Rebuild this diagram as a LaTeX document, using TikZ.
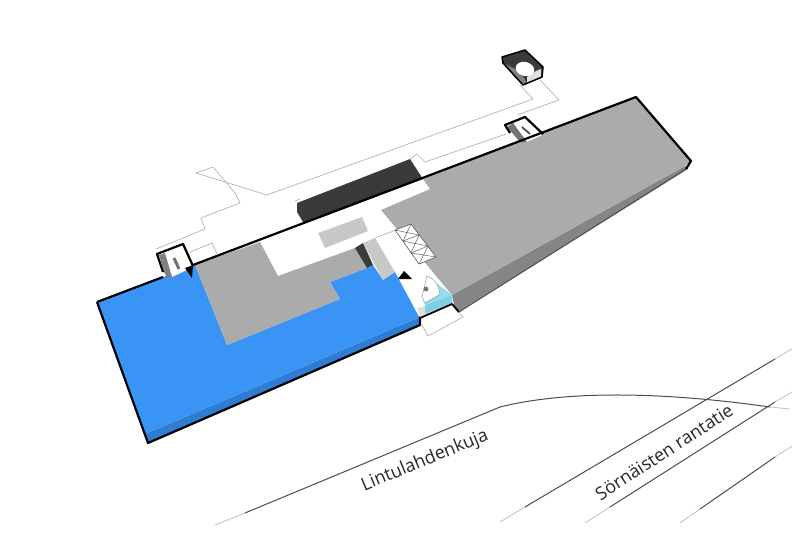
\documentclass[tikz,border=0pt]{standalone}
\usepackage{fontspec}
\setmainfont{Open Sans}
\definecolor{blueTop}{HTML}{3A94F6}
\definecolor{blueSide}{HTML}{2F7DD3}
\definecolor{grayTop}{HTML}{ABABAB}
\definecolor{graySide}{HTML}{858585}
\definecolor{darkBlock}{HTML}{3A3A3A}
\definecolor{paleGray}{HTML}{C8C8C8}
\definecolor{cyanTop}{HTML}{8FDDEE}
\definecolor{cyanSide}{HTML}{7FD0E6}
\tikzset{
  thinline/.style={draw=black!30,line width=0.7pt,line join=round},
  heavy/.style={draw=black,line width=2.2pt,line join=round},
  road/.style={draw=black!70,line width=1pt},
  roadfade/.style={draw=black!25,line width=0.8pt},
  label/.style={font=\fontsize{18}{21}\selectfont,text=black!85,inner sep=0pt}
}
\begin{document}
\begin{tikzpicture}[x=1pt,y=-1pt]
\useasboundingbox (0,0) rectangle (800,533);
% thin outlines
\draw[thinline] (156,249) -- (205,229) -- (201,218) -- (240,203) -- (235,193) -- (213,167) -- (196,173) -- (267,195) -- (533,99) -- (520,85);
\draw[thinline] (540,80) -- (559,100) -- (517,115);
\draw[thinline] (506,134) -- (425,162) -- (417,154) -- (410,159);
\draw[thinline] (190,252) -- (212,243) -- (217,254);
\draw[thinline] (295,201) -- (300,199);
\draw[thinline] (422,325) -- (428,336) -- (463,317) -- (453,306);
% gray slab
\fill[graySide] (452,295) -- (685,166) -- (688,169) -- (459,312) -- (454,305) -- cycle;
\fill[grayTop] (423,179) -- (636,97) -- (691,161) -- (685,166) -- (452,295) -- (381,210) -- (430,189) -- cycle;
% blue slab
\fill[blueSide] (145,434) -- (420,317) -- (420,325) -- (148,443) -- cycle;
\fill[blueTop] (97,302) -- (195,265) -- (227,345) -- (340,299) -- (330,282) -- (367,268) -- (373,265) -- (383,280) -- (395,272) -- (418,315) -- (420,317) -- (145,434) -- cycle;
% gray floor over blue
\fill[grayTop] (195,265) -- (260,242) -- (278,276) -- (355,248) -- (367,268) -- (330,282) -- (340,299) -- (227,345) -- cycle;
\fill[darkBlock] (355,248) -- (363,243) -- (373,265) -- (367,268) -- cycle;
\fill[paleGray] (363,243) -- (375,238) -- (395,272) -- (383,280) -- cycle;
\fill[paleGray] (318,233) -- (362,217) -- (368,231) -- (325,248) -- cycle;
\draw[thinline] (375,238) -- (396,230);
% dark block
\fill[darkBlock] (297,203) -- (410,159) -- (423,179) -- (309,222) -- (303,222) -- (297,212) -- cycle;
% cyan core
\fill[cyanSide] (425,305) -- (452,295) -- (452,303) -- (425,314) -- cycle;
\fill[cyanTop] (427,276) -- (452,295) -- (425,305) -- (422,297) -- cycle;
\fill[paleGray!60] (417,308) -- (425,306) -- (425,314) -- (420,316) -- cycle;
% door fan
\filldraw[fill=white,draw=black!45,line width=0.4pt] (427,276) .. controls (435,279) and (441,288) .. (439,295) -- (425,303) -- (422,297) -- cycle;
\fill[black!55] (426,289) circle (2.4pt);
% hatched shafts
\filldraw[fill=white,draw=black!65,line width=0.6pt] (395,230) -- (411,224) -- (436,257) -- (419,264) -- cycle;
\draw[black!65,line width=0.45pt] (403,241) -- (419,235) (411,253) -- (428,246);
\draw[black!65,line width=0.45pt] (395,230) -- (419,235) (411,224) -- (403,241) (403,241) -- (428,246) (419,235) -- (411,253) (411,253) -- (436,257) (428,246) -- (419,264);
% arrow triangles
\fill[black] (404,271) -- (412,279) -- (398,279) -- cycle;
% left stair
\fill[white] (165,253) -- (182,247) -- (191,268) -- (172,277) -- cycle;
\fill[black!50] (159,255) -- (165,253) -- (172,277) -- (168,279) -- (164,272) -- cycle;
\draw[black!55,line width=3pt] (174,258) -- (179,269);
\draw[heavy] (163,272) -- (157,254) -- (183,244) -- (193,266);
\fill[black] (185,268) -- (193,265) -- (192,278) -- cycle;
% right stair
\fill[white] (513,123) -- (525,118) -- (542,135) -- (527,142) -- cycle;
\fill[black!55] (507,127) -- (513,123) -- (527,142) -- (520,142) -- cycle;
\draw[black!70,line width=1.8pt] (522,127) -- (530,134);
\draw[heavy] (510,133) -- (505,125) -- (525,117) -- (543,134);
% top box
\fill[darkBlock] (502,57) -- (525,50) -- (543,67) -- (542,77) -- (523,85) -- (503,63) -- cycle;
\fill[black!50] (505,64) -- (517,70) -- (524,78) -- (527,84) -- (522,84) -- (505,66) -- cycle;
\fill[black!12] (527,77) -- (536,71) -- (541,69) -- (541,77) -- (527,84) -- cycle;
\fill[white,rotate around={-15:(525,69)}] (525,69) ellipse (9.5pt and 7pt);
\draw[black,line width=1.5pt,line join=round] (502,57) -- (525,50) -- (543,67) -- (542,77) -- (523,85) -- (503,63) -- cycle;
% heavy outlines
\draw[heavy] (97,302) -- (163,277) (193,265) -- (636,97) -- (691,161) -- (686,169);
\draw[heavy] (97,302) -- (148,443) -- (420,325) -- (420,317);
\draw[black,line width=1.8pt,line join=round] (420,318) -- (452,304) -- (459,312);
\draw[black!70,line width=0.9pt] (459,312) -- (686,169);
% roads
\draw[road] (245,513) -- (500,407) .. controls (560,392) and (650,390) .. (770,407);
\draw[roadfade] (215,525) -- (245,513);
\draw[roadfade] (770,407) -- (790,409);
\draw[road] (525,507) -- (775,359);
\draw[roadfade] (500,522) -- (525,507) (775,359) -- (792,349);
\draw[road] (610,507) -- (775,402);
\draw[roadfade] (585,523) -- (610,507) (775,402) -- (792,392);
\draw[road] (700,509) -- (775,457);
\draw[roadfade] (680,523) -- (700,509) (775,457) -- (792,446);
% labels
\node[label,rotate=22.5] (lintu) at (425,461) {Lintulahdenkuja};
\node[label,rotate=33] (sorn) at (664,452) {Sörnäisten rantatie};
\end{tikzpicture}
\end{document}
